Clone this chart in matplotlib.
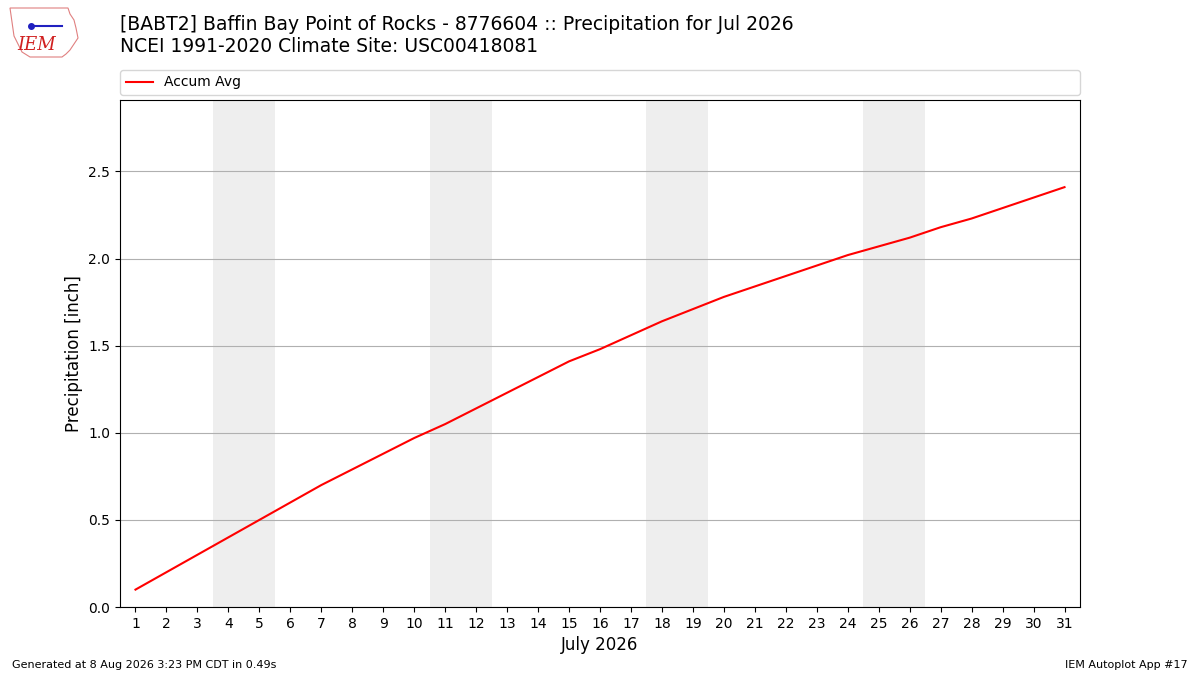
import matplotlib
matplotlib.use("Agg")
import matplotlib.pyplot as plt
from matplotlib.patches import Polygon

days = list(range(1, 32))
accum_avg = [0.10, 0.20, 0.30, 0.40, 0.50, 0.60, 0.70, 0.79, 0.88, 0.97,
             1.05, 1.14, 1.23, 1.32, 1.41, 1.48, 1.56, 1.64, 1.71, 1.78,
             1.84, 1.90, 1.96, 2.02, 2.07, 2.12, 2.18, 2.23, 2.29, 2.35, 2.41]
weekend_days = [4, 5, 11, 12, 18, 19, 25, 26]
title_lines = ["[BABT2] Baffin Bay Point of Rocks - 8776604 :: Precipitation for Jul 2026",
               "NCEI 1991-2020 Climate Site: USC00418081"]

fig = plt.figure(figsize=(12, 6.75), dpi=100)
ax = fig.add_axes([0.1, 0.1007, 0.8, 0.7511])

for d in weekend_days:
    ax.axvspan(d - 0.5, d + 0.5, color="#eeeeee", zorder=0, lw=0)

ax.plot(days, accum_avg, color="red", lw=1.5, label="Accum Avg", zorder=3)
ax.set_xlim(0.5, 31.5)
ax.set_ylim(0, 2.91)
ax.set_xticks(days)
ax.set_xticklabels([str(d) for d in days])
ax.set_yticks([0.0, 0.5, 1.0, 1.5, 2.0, 2.5])
ax.grid(axis="y", color="#b0b0b0", lw=0.8)
ax.set_axisbelow(True)
ax.tick_params(labelsize=10)
ax.set_ylabel("Precipitation [inch]", fontsize=12)
ax.set_xlabel("July 2026", fontsize=12)

ax.legend(loc="lower left", bbox_to_anchor=(0, 1.01, 1, 0.05), mode="expand",
          ncol=1, fontsize=10, borderaxespad=0, frameon=True)

fig.text(0.1, 1 - 24 / 675, title_lines[0], fontsize=13.5, ha="left", va="center")
fig.text(0.1, 1 - 47 / 675, title_lines[1], fontsize=13.5, ha="left", va="center")

fig.text(0.01, 0.015, "Generated at 8 Aug 2026 3:23 PM CDT in 0.49s", fontsize=8, ha="left", va="center")
fig.text(0.99, 0.015, "IEM Autoplot App #17", fontsize=8, ha="right", va="center")

# approximate IEM logo
outline = [(10, 8), (68, 8), (70, 14), (74, 20), (76, 28), (78, 38), (74, 44), (70, 50), (66, 54),
           (62, 57), (30, 57), (22, 52), (18, 44), (14, 36), (12, 22)]
poly = Polygon([(x / 1200, 1 - y / 675) for x, y in outline], closed=True, fill=False,
               edgecolor="#e08080", lw=0.8, transform=fig.transFigure)
fig.add_artist(poly)
fig.text(37 / 1200, 1 - 45 / 675, "IEM", fontsize=13, color="#d02020", family="DejaVu Serif",
         style="italic", ha="center", va="center")
fig.add_artist(plt.Line2D([30 / 1200, 62 / 1200], [1 - 26 / 675, 1 - 26 / 675], color="#2020c0",
                          lw=1.5, transform=fig.transFigure))
fig.add_artist(plt.Line2D([31 / 1200], [1 - 26 / 675], marker="o", ms=4, color="#2020c0",
                          transform=fig.transFigure))

fig.savefig("out.png", dpi=100)
